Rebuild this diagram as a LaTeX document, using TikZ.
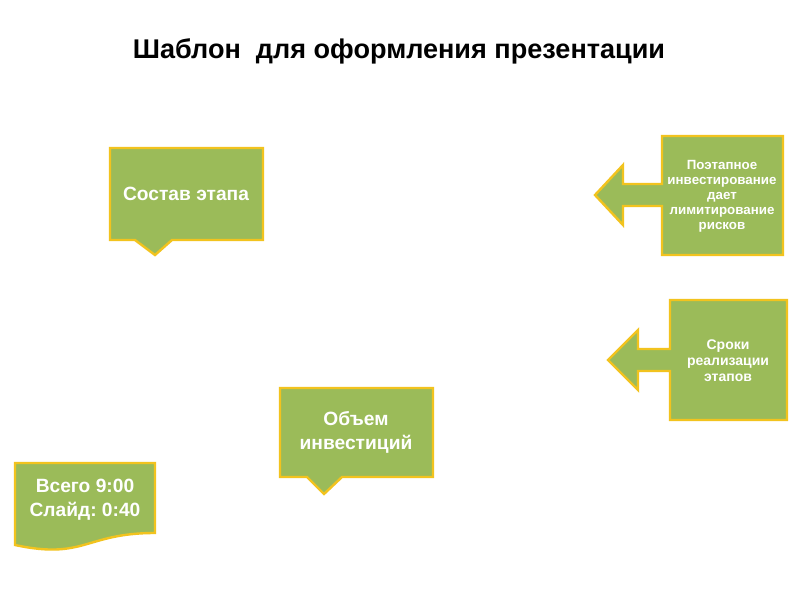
\documentclass[tikz,border=0pt]{standalone}
\usepackage{fontspec}
\setmainfont{Liberation Sans}
\frenchspacing
\definecolor{boxgreen}{RGB}{155,187,89}
\definecolor{boxgold}{RGB}{242,195,30}
\tikzset{
  shapebox/.style={fill=boxgreen,draw=boxgold,line width=1.8pt,line join=miter},
  bigtxt/.style={text=white,font=\bfseries\frenchspacing\fontsize{14.4}{18}\selectfont,align=center,inner sep=0pt},
  smalltxt/.style={text=white,font=\bfseries\fontsize{10}{11.3}\selectfont,align=center,inner sep=0pt},
  midtxt/.style={text=white,font=\bfseries\fontsize{10.5}{12}\selectfont,align=center,inner sep=0pt},
  titletxt/.style={text=black,font=\bfseries\fontsize{20.3}{24}\selectfont,inner sep=0pt}
}
\begin{document}
\begin{tikzpicture}[x=0.75pt,y=-0.75pt]
\useasboundingbox[fill=white] (0,0) rectangle (800,600);
% title
\node[titletxt] (title) at (399,51) {Шаблон\ \ для оформления презентации};
% callout: Состав этапа
\draw[shapebox] (110,148) -- (263,148) -- (263,240) -- (172,240) -- (155,255) -- (135,240) -- (110,240) -- cycle;
\node[bigtxt] (sostav) at (186,194) {Состав этапа};
% callout: Объем инвестиций
\draw[shapebox] (280,388) -- (433,388) -- (433,477) -- (342,477) -- (324,494) -- (307,477) -- (280,477) -- cycle;
\node[bigtxt] (obyem) at (356,432) {Объем\\инвестиций};
% left arrow callout 1
\draw[shapebox] (662,136) -- (783,136) -- (783,255) -- (662,255) -- (662,206) -- (623,206) -- (623,225) -- (595,195) -- (623,165) -- (623,184) -- (662,184) -- cycle;
\node[smalltxt] (poetap) at (722,196) {Поэтапное\\инвестирование\\дает\\лимитирование\\рисков};
% left arrow callout 2
\draw[shapebox] (670,300) -- (787,300) -- (787,420) -- (670,420) -- (670,371) -- (638,371) -- (638,390) -- (608,360) -- (638,330) -- (638,349) -- (670,349) -- cycle;
\node[midtxt] (sroki) at (728,361) {Сроки\\реализации\\этапов};
% document shape
\draw[shapebox] (15,463) -- (155,463) -- (155,533) .. controls (85,533) and (85,560) .. (15,545) -- cycle;
\node[bigtxt] (vsego) at (85,500) {Всего 9:00\\Слайд: 0:40};
\end{tikzpicture}
\end{document}
